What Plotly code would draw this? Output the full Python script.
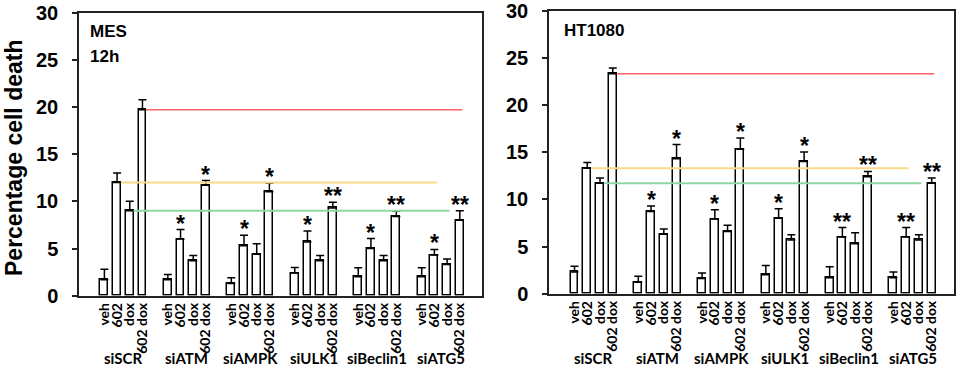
import plotly.graph_objects as go

groups = ["siSCR", "siATM", "siAMPK", "siULK1", "siBeclin1", "siATG5"]
treatments = ["veh", "602", "dox", "602 dox"]

mes_mean = [1.7, 12.0, 9.0, 19.7, 1.7, 6.0, 3.7, 11.7, 1.3, 5.3, 4.4, 11.0,
            2.4, 5.7, 3.7, 9.3, 2.0, 5.0, 3.7, 8.4, 2.0, 4.3, 3.3, 8.0]
mes_err = [1.1, 1.0, 1.0, 1.05, 0.55, 1.0, 0.55, 0.5, 0.6, 1.1, 1.1, 0.95,
           0.6, 1.15, 0.55, 0.6, 0.95, 1.05, 0.55, 0.55, 0.95, 0.6, 0.6, 1.0]
mes_sig = ["", "", "", "", "", "*", "", "*", "", "*", "", "*",
           "", "*", "", "**", "", "*", "", "**", "", "*", "", "**"]

ht_mean = [2.3, 13.3, 11.7, 23.3, 1.2, 8.7, 6.3, 14.3, 1.6, 7.9, 6.6, 15.3,
           2.0, 8.0, 5.7, 14.0, 1.7, 6.0, 5.3, 12.4, 1.7, 6.0, 5.7, 11.7]
ht_err = [0.6, 0.6, 0.55, 0.6, 0.65, 0.6, 0.55, 1.5, 0.6, 1.0, 0.65, 1.2,
          1.0, 1.0, 0.55, 1.0, 1.15, 1.0, 1.15, 0.55, 0.6, 1.0, 0.55, 0.55]
ht_sig = ["", "", "", "", "", "*", "", "*", "", "*", "", "*",
          "", "*", "", "*", "", "**", "", "**", "", "**", "", "**"]

ref_colors = {1: "#FBD88A", 2: "#8ED8A6", 3: "#FF6464"}
ref_widths = {1: 2, 2: 2, 3: 1.3}

SLOT = len(treatments) + 1
xpos = [g * SLOT + j for g in range(len(groups)) for j in range(len(treatments))]
ticktext = [t for g in groups for t in treatments]

W, H = 957, 368
def px(xp):
    return xp / W
def py(yp):
    return 1 - yp / H

fig = go.Figure()
AXC = "#222222"
TXT = "#000000"

panels = [
    (mes_mean, mes_err, mes_sig, "x", "y"),
    (ht_mean, ht_err, ht_sig, "x2", "y2"),
]

for mean, err, sig, xa, ya in panels:
    fig.add_trace(go.Bar(
        x=xpos, y=mean, width=0.62, xaxis=xa, yaxis=ya,
        marker=dict(color="white", line=dict(color="black", width=1.5)),
        error_y=dict(type="data", array=err, arrayminus=[0] * len(err), symmetric=False,
                     color="black", thickness=1.5, width=4),
        showlegend=False,
    ))
    # reference lines from the siSCR bars across to the last group
    for j in (1, 2, 3):
        x0 = xpos[j] + 0.3
        x1 = xpos[(len(groups) - 1) * len(treatments) + j] + 0.2
        fig.add_trace(go.Scatter(
            x=[x0, x1], y=[mean[j], mean[j]], mode="lines", xaxis=xa, yaxis=ya,
            line=dict(color=ref_colors[j], width=ref_widths[j]), showlegend=False,
            hoverinfo="skip",
        ))
    # significance stars
    for k, s in enumerate(sig):
        if s:
            fig.add_annotation(
                x=xpos[k], y=mean[k] + err[k], xref=xa, yref=ya, text="<b>%s</b>" % s,
                showarrow=False, yanchor="bottom", yshift=-9,
                font=dict(family="Liberation Sans", size=23, color=TXT),
            )
    # group labels
    for g, name in enumerate(groups):
        fig.add_annotation(
            x=g * SLOT + (len(treatments) - 1) / 2, y=py(358), xref=xa, yref="paper",
            text="<b>%s</b>" % name, showarrow=False, yanchor="middle",
            font=dict(family="Lato", size=15, color=TXT),
        )

for txt, xx, yy in [("MES", 88, 32), ("12h", 88, 56), ("HT1080", 562, 31)]:
    fig.add_annotation(x=px(xx), y=py(yy), xref="paper", yref="paper", text="<b>%s</b>" % txt,
                       showarrow=False, xanchor="left", yanchor="middle",
                       font=dict(family="Liberation Sans", size=17, color=TXT))

fig.add_annotation(x=px(14), y=py(158), xref="paper", yref="paper",
                   text="<b>Percentage cell death</b>", textangle=-90, showarrow=False,
                   xanchor="center", yanchor="middle",
                   font=dict(family="Liberation Sans", size=23, color=TXT))

xrange = [-2.0, xpos[-1] + 1.75]
xcommon = dict(range=xrange, tickmode="array", tickvals=xpos, ticktext=ticktext,
               tickangle=-90, showgrid=False, zeroline=False, showline=True,
               linecolor=AXC, linewidth=1.5, mirror=True, ticks="", automargin=False,
               tickfont=dict(family="Lato", size=14, color=TXT, weight="bold"))
ycommon = dict(range=[0, 30], tickvals=[0, 5, 10, 15, 20, 25, 30], showgrid=False,
               zeroline=False, showline=True, linecolor=AXC, linewidth=1.5, mirror=True,
               ticks="outside", ticklen=5, tickcolor=AXC, tickwidth=1.5, automargin=False,
               ticklabelstandoff=10, ticklabeloverflow="allow",
               tickfont=dict(family="Liberation Sans", size=20, color=TXT, weight="bold"))

fig.update_layout(
    width=W, height=H, margin=dict(l=0, r=0, t=0, b=0, autoexpand=False),
    paper_bgcolor="white", plot_bgcolor="white", bargap=0,
    xaxis=dict(domain=[px(79), px(482)], anchor="y", **xcommon),
    yaxis=dict(domain=[py(295.7), py(12.5)], anchor="x", **ycommon),
    xaxis2=dict(domain=[px(549), px(954)], anchor="y2", **xcommon),
    yaxis2=dict(domain=[py(293.7), py(10.5)], anchor="x2", **ycommon),
)

fig.write_html("out.html", config={"displayModeBar": False},
               post_script="document.body.style.margin='0px';document.body.style.overflow='hidden';")
